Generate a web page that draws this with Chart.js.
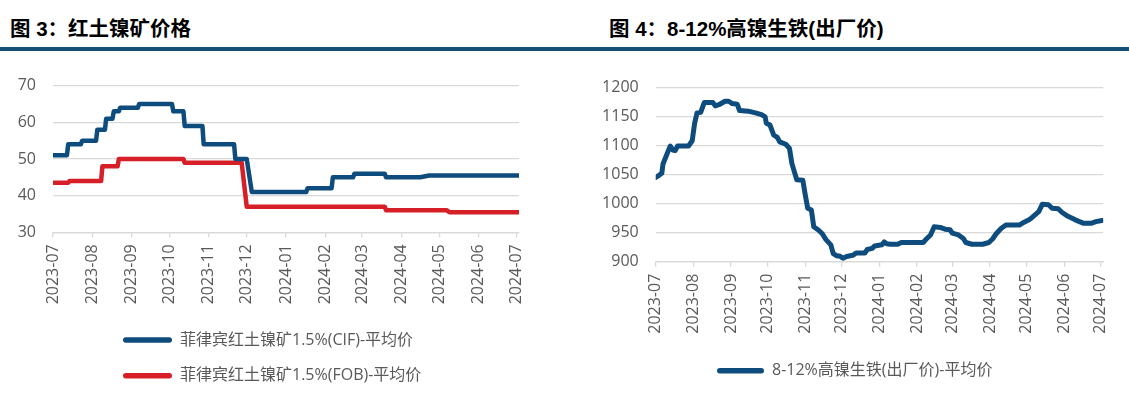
<!DOCTYPE html>
<html><head><meta charset="utf-8">
<script src="https://cdn.jsdelivr.net/npm/chart.js@4.4.1/dist/chart.umd.min.js"></script>
<style>
html,body{margin:0;padding:0;background:#fff;}
body{width:1129px;height:409px;position:relative;overflow:hidden;font-family:"Liberation Sans","Noto Sans CJK SC",sans-serif;}
.title{position:absolute;top:17px;font-size:20.5px;font-weight:bold;color:#000;line-height:24px;white-space:nowrap;}
.rule{position:absolute;left:0;top:47px;width:1129px;height:4px;background:#174e77;}
canvas{position:absolute;top:55px;}
</style></head><body>
<div class="title" style="left:10px">图 3：红土镍矿价格</div>
<div class="title" style="left:609px">图 4：8-12%高镍生铁(出厂价)</div>
<div class="rule"></div>
<canvas id="c1" width="545" height="354" style="left:0px"></canvas>
<canvas id="c2" width="549" height="354" style="left:580px"></canvas>
<script>
// ---------- data ----------
const monthTicks = ['2023-07','2023-08','2023-09','2023-10','2023-11','2023-12','2024-01','2024-02','2024-03','2024-04','2024-05','2024-06','2024-07'];

const cifLabel = '菲律宾红土镍矿1.5%(CIF)-平均价';
const cifDates = ['2023-07-01','2023-07-12','2023-07-13','2023-07-23','2023-07-24','2023-08-04','2023-08-05','2023-08-11','2023-08-12','2023-08-17','2023-08-18','2023-08-22','2023-08-23','2023-09-06','2023-09-07','2023-10-03','2023-10-04','2023-10-12','2023-10-13','2023-10-27','2023-10-28','2023-11-21','2023-11-22','2023-12-01','2023-12-05','2024-01-17','2024-01-18','2024-02-06','2024-02-07','2024-02-23','2024-02-24','2024-03-19','2024-03-20','2024-04-16','2024-04-23','2024-07-03'];
const cifValues = [51,51,54,54,55,55,58,58,61,61,63,63,64,64,65,65,63,63,59,59,54,54,50,50,41,41,42,42,45,45,46,46,45,45,45.5,45.5];

const fobLabel = '菲律宾红土镍矿1.5%(FOB)-平均价';
const fobDates = ['2023-07-01','2023-07-13','2023-07-14','2023-08-08','2023-08-09','2023-08-21','2023-08-22','2023-10-12','2023-10-13','2023-11-27','2023-12-01','2024-03-19','2024-03-20','2024-05-07','2024-05-09','2024-07-03'];
const fobValues = [43.5,43.5,44,44,48,48,50,50,49,49,37,37,36,36,35.5,35.5];

const npiLabel = '8-12%高镍生铁(出厂价)-平均价';
const npiDates = ['2023-07-01','2023-07-04','2023-07-06','2023-07-07','2023-07-11','2023-07-13','2023-07-15','2023-07-17','2023-07-19','2023-07-28','2023-07-31','2023-08-02','2023-08-04','2023-08-07','2023-08-10','2023-08-17','2023-08-19','2023-08-22','2023-08-27','2023-08-30','2023-09-02','2023-09-06','2023-09-08','2023-09-15','2023-09-21','2023-09-26','2023-09-29','2023-09-30','2023-10-03','2023-10-06','2023-10-09','2023-10-11','2023-10-16','2023-10-19','2023-10-21','2023-10-23','2023-10-25','2023-10-30','2023-11-01','2023-11-03','2023-11-06','2023-11-08','2023-11-12','2023-11-15','2023-11-18','2023-11-22','2023-11-24','2023-11-27','2023-11-29','2023-12-02','2023-12-05','2023-12-10','2023-12-13','2023-12-20','2023-12-22','2023-12-26','2023-12-28','2024-01-03','2024-01-05','2024-01-07','2024-01-10','2024-01-16','2024-01-19','2024-02-06','2024-02-09','2024-02-12','2024-02-15','2024-02-20','2024-02-24','2024-02-28','2024-03-01','2024-03-06','2024-03-10','2024-03-12','2024-03-17','2024-03-26','2024-03-31','2024-04-03','2024-04-06','2024-04-10','2024-04-14','2024-04-25','2024-04-29','2024-05-03','2024-05-06','2024-05-11','2024-05-14','2024-05-19','2024-05-22','2024-05-27','2024-05-30','2024-06-04','2024-06-10','2024-06-17','2024-06-23','2024-06-27','2024-07-02'];
const npiValues = [1045,1049,1052,1068,1089,1099,1092,1091,1099,1099,1108,1138,1156,1157,1174,1174,1168,1170,1176,1176,1172,1171,1160,1159,1156,1153,1149,1138,1135,1118,1114,1106,1102,1095,1069,1055,1041,1040,1015,992,989,960,954,948,938,929,914,910,910,906,909,911,915,915,921,923,927,929,934,931,930,930,933,933,940,946,960,959,956,955,949,946,940,933,930,930,933,939,948,957,963,963,968,972,977,986,999,998,992,991,985,978,972,966,966,969,971];

// ---------- helpers ----------
const BLUE = '#0e4c7d', RED = '#d71f27', GRID = '#d9d9d9', TXT = '#595959';
const FONT = '"Open Sans","Noto Sans CJK SC",sans-serif';
const FS = 16;
const BASE = Date.UTC(2023, 6, 1);
function dayOf(s){ const [y,m,d] = s.split('-').map(Number); return (Date.UTC(y, m-1, d||1) - BASE) / 86400000; }
function pts(dates, vals){ return dates.map((d,i) => ({x: dayOf(d), y: vals[i]})); }

const LPAD = 19.7;

function xAxis(h){
  return {
    type: 'linear', min: 0, max: dayOf('2024-07-03'),
    afterBuildTicks: s => { s.ticks = monthTicks.map(m => ({value: dayOf(m + '-01')})); },
    afterFit: s => { s.height = h; },
    ticks: { autoSkip: false, maxRotation: 90, minRotation: 90, padding: 7, color: TXT,
             font: {family: FONT, size: FS}, callback: (v, i) => monthTicks[i] },
    grid: { drawOnChartArea: false, drawTicks: true, tickLength: 5, color: GRID, lineWidth: 1.3 },
    border: { display: true, color: GRID, width: 1.3 }
  };
}
function yAxis(min, max, step, w){
  return {
    min, max,
    afterFit: s => { s.width = w; },
    ticks: { stepSize: step, padding: 17, color: TXT, font: {family: FONT, size: FS},
             callback: v => String(v) },
    grid: { color: GRID, lineWidth: 1.3, drawTicks: false },
    border: { display: false }
  };
}
function legend(boxW){
  return {
    position: 'bottom', align: 'start',
    labels: {
      boxWidth: boxW, boxHeight: 5.5, padding: LPAD, color: TXT, font: {family: FONT, size: FS},
      generateLabels: chart => chart.data.datasets.map((ds, i) => ({
        text: ds.label, fillStyle: ds.borderColor, strokeStyle: ds.borderColor, lineWidth: 0,
        borderRadius: 2.75, datasetIndex: i, hidden: false, fontColor: TXT
      }))
    }
  };
}
// place the legend block so that its first item starts at a given x (canvas coords)
function legendStart(x){
  return { id: 'legendStart', afterLayout(chart){
    const lg = chart.legend; lg.left = x - LPAD; lg.right = chart.width; lg.width = lg.right - lg.left;
  } };
}
function line(label, data, color, w){
  return { label, data, borderColor: color, backgroundColor: color, borderWidth: w, pointRadius: 0,
           tension: 0, fill: false, borderJoinStyle: 'round', borderCapStyle: 'round' };
}

// ---------- left chart ----------
new Chart(document.getElementById('c1'), {
  type: 'line',
  data: { datasets: [ line(cifLabel, pts(cifDates, cifValues), BLUE, 4.5),
                      line(fobLabel, pts(fobDates, fobValues), RED, 4.5) ] },
  options: {
    responsive: false, animation: false, devicePixelRatio: 1,
    layout: { padding: { left: 0, right: 26, top: 30.7, bottom: 15.3 } },
    scales: { x: xAxis(80), y: yAxis(30, 70, 10, 53) },
    plugins: { legend: legend(49), tooltip: { enabled: false } }
  },
  plugins: [ legendStart(123) ]
});

// ---------- right chart ----------
new Chart(document.getElementById('c2'), {
  type: 'line',
  data: { datasets: [ line(npiLabel, pts(npiDates, npiValues), BLUE, 5) ] },
  options: {
    responsive: false, animation: false, devicePixelRatio: 1,
    layout: { padding: { left: 0, right: 25.8, top: 32.3, bottom: 20.3 } },
    scales: { x: xAxis(81.3), y: yAxis(900, 1200, 50, 75.7) },
    plugins: { legend: legend(47), tooltip: { enabled: false } }
  },
  plugins: [ legendStart(717 - 580) ]
});
</script>
</body></html>
